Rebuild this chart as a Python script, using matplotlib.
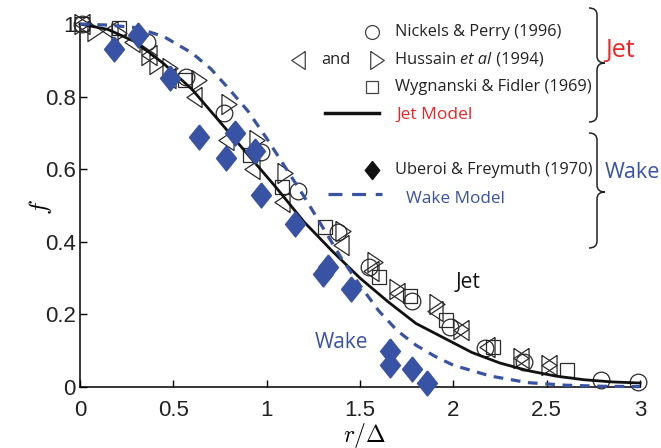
import matplotlib.pyplot as plt
from matplotlib.path import Path
from matplotlib.patches import PathPatch
from matplotlib.transforms import Affine2D

plt.rcParams['mathtext.fontset'] = 'cm'
plt.rcParams['lines.scale_dashes'] = False

# model curves
jet_x = [0, 0.15, 0.3, 0.45, 0.6, 0.75, 0.9, 1.05, 1.2, 1.35, 1.5, 1.65, 1.8,
         1.95, 2.1, 2.25, 2.4, 2.55, 2.7, 2.85, 3.0]
jet_f = [1.0, 0.985, 0.95, 0.89, 0.82, 0.73, 0.64, 0.55, 0.455, 0.375, 0.30,
         0.235, 0.175, 0.135, 0.095, 0.066, 0.045, 0.03, 0.02, 0.014, 0.011]

wake_x = [0, 0.15, 0.3, 0.45, 0.6, 0.7, 0.8, 0.9, 1.0, 1.1, 1.2, 1.3, 1.4,
          1.5, 1.6, 1.7, 1.8, 1.9, 2.0, 2.2, 2.4, 2.6, 2.8, 3.0]
wake_f = [1.0, 0.997, 0.99, 0.965, 0.92, 0.877, 0.82, 0.76, 0.685, 0.605,
          0.525, 0.44, 0.355, 0.28, 0.21, 0.155, 0.115, 0.085, 0.06, 0.03,
          0.012, 0.005, 0.002, 0.001]

# Nickels & Perry (1996)
np_x = [0.01, 0.36, 0.57, 0.77, 0.97, 1.17, 1.38, 1.55, 1.78, 1.98, 2.17,
        2.38, 2.79, 2.99]
np_f = [1.0, 0.95, 0.855, 0.755, 0.648, 0.54, 0.428, 0.33, 0.237, 0.166,
        0.107, 0.07, 0.02, 0.015]

# Hussain et al (1994), right and left pointing
hr_x = [0.01, 0.08, 0.21, 0.37, 0.41, 0.48, 0.64, 0.80, 0.95, 1.10, 1.41,
        1.58, 1.70, 1.91, 2.04, 2.36, 2.51]
hr_f = [1.0, 0.98, 0.975, 0.915, 0.89, 0.88, 0.845, 0.78, 0.68, 0.59, 0.43,
        0.345, 0.27, 0.23, 0.16, 0.08, 0.06]
hl_x = [0.01, 0.16, 0.28, 0.37, 0.47, 0.61, 0.78, 0.92, 1.08, 1.40, 1.56,
        1.70, 1.90, 2.04, 2.18, 2.36, 2.51]
hl_f = [1.0, 0.98, 0.95, 0.915, 0.85, 0.80, 0.68, 0.60, 0.51, 0.39, 0.32,
        0.26, 0.21, 0.157, 0.11, 0.08, 0.06]

# Wygnanski & Fidler (1969)
wf_x = [0.01, 0.21, 0.56, 0.91, 1.08, 1.31, 1.60, 1.77, 1.96, 2.21, 2.61]
wf_f = [1.0, 0.99, 0.846, 0.64, 0.55, 0.44, 0.304, 0.25, 0.185, 0.11, 0.047]

# Uberoi & Freymuth (1970)
uf_x = [0.18, 0.31, 0.48, 0.64, 0.78, 0.83, 0.94, 0.97, 1.15, 1.30, 1.33,
        1.45, 1.66, 1.66, 1.78, 1.86]
uf_f = [0.93, 0.97, 0.85, 0.69, 0.63, 0.70, 0.65, 0.53, 0.45, 0.31, 0.33,
        0.27, 0.10, 0.06, 0.05, 0.01]

xticks = [0, 0.5, 1, 1.5, 2, 2.5, 3]
xticklabels = ['0', '0.5', '1', '1.5', '2', '2.5', '3']
yticks = [0, 0.2, 0.4, 0.6, 0.8, 1.0]
yticklabels = ['0', '0.2', '0.4', '0.6', '0.8', '1']

blue = '#3953a4'
red = '#ee2424'
edge = '#2a2a2a'
tri_r = [(-0.75, 1), (-0.75, -1), (0.75, 0), (-0.75, 1)]
tri_l = [(0.75, 1), (0.75, -1), (-0.75, 0), (0.75, 1)]
diamond = [(0, 1), (0.8, 0), (0, -1), (-0.8, 0), (0, 1)]

fig = plt.figure(figsize=(6.61, 4.48), dpi=100)
ax = fig.add_axes([80 / 661, 1 - 387 / 448, 560 / 661, 363 / 448])

hollow = dict(linestyle='none', mfc='none', mec=edge, mew=0.9, clip_on=False, zorder=3)
ax.plot(np_x, np_f, marker='o', ms=12, **hollow)
ax.plot(hr_x, hr_f, marker=tri_r, ms=14.5, **hollow)
ax.plot(hl_x, hl_f, marker=tri_l, ms=14.5, **hollow)
ax.plot(wf_x, wf_f, marker='s', ms=10.5, **hollow)
ax.plot(jet_x, jet_f, color='#111111', lw=2.0, zorder=4, clip_on=False)
ax.plot(wake_x, wake_f, color=blue, lw=2.3, dashes=(7, 5.5), zorder=4, clip_on=False)
ax.plot(uf_x, uf_f, linestyle='none', marker=diamond, ms=18, mfc=blue, mec=blue,
        clip_on=False, zorder=5)

ax.set_xlim(0, 3)
ax.set_ylim(0, 1)
ax.spines['top'].set_visible(False)
ax.spines['right'].set_visible(False)
ax.spines['left'].set_linewidth(1.1)
ax.spines['bottom'].set_linewidth(1.1)
ax.set_xticks(xticks)
ax.set_xticklabels(xticklabels)
ax.set_yticks(yticks)
ax.set_yticklabels(yticklabels)
for lab in ax.get_xticklabels() + ax.get_yticklabels():
    lab.set_family('Liberation Sans')
    lab.set_color('#222222')
ax.tick_params(direction='in', length=5, width=1, labelsize=16)
ax.tick_params(axis='x', pad=9)
ax.tick_params(axis='y', pad=3)

ax.set_xlabel(r'$r/\Delta$', fontsize=17)
ax.xaxis.set_label_coords((365 - 80) / 560, (387 - 435) / 363)
ax.xaxis.label.set_va('center')
ax.set_ylabel(r'$f$', fontsize=18)
ax.yaxis.set_label_coords((40 - 80) / 560, (387 - 207) / 363)
ax.yaxis.label.set_va('center')

# annotation layer in reference pixel coordinates (y downward)
pix = Affine2D().scale(1 / 661, -1 / 448).translate(0, 1) + fig.transFigure
font = 'Open Sans'
fs = 11.8
txt = dict(transform=pix, family=font, fontsize=fs, va='center', ha='left', color='#222222')
mk = dict(transform=pix, linestyle='none', mfc='none', mec='#444444', mew=0.9, clip_on=False)

ax.plot([372], [32], marker='o', ms=10, **mk)
fig.text(395, 32, 'Nickels & Perry (1996)', **txt)

ax.plot([298], [60], marker=tri_l, ms=13, **mk)
fig.text(321, 60, 'and', **txt)
ax.plot([377], [60], marker=tri_r, ms=13, **mk)
t1 = fig.text(395, 60, 'Hussain ', **txt)
t2 = ax.annotate('et al', xy=(1, 0), xycoords=t1, ha='left', va='bottom',
                 family=font, fontsize=fs, style='italic', color='#222222')
ax.annotate(' (1994)', xy=(1, 0), xycoords=t2, ha='left', va='bottom',
            family=font, fontsize=fs, color='#222222')

ax.plot([372], [87], marker='s', ms=9, **mk)
fig.text(395, 87, 'Wygnanski & Fidler (1969)', **txt)

ax.plot([325, 379], [113, 113], transform=pix, color='#111111', lw=2.5, clip_on=False)
fig.text(396, 115, 'Jet Model', transform=pix, family=font, fontsize=12.5,
         va='center', ha='left', color=red)

ax.plot([372], [170], transform=pix, linestyle='none', marker=diamond, ms=13,
        mfc='#111111', mec='#111111', clip_on=False)
fig.text(395, 170, 'Uberoi & Freymuth (1970)', **txt)

ax.plot([328, 382], [194, 194], transform=pix, color=blue, lw=2.3,
        dashes=(10, 7), clip_on=False)
fig.text(406, 199, 'Wake Model', transform=pix, family=font, fontsize=12.3,
         va='center', ha='left', color=blue)


def brace(top, bot, mid, xl=589, xm=597, xr=605, r=7):
    verts = [(xl, top), (xm, top), (xm, top + r), (xm, mid - r),
             (xm, mid), (xr, mid), (xm, mid), (xm, mid + r),
             (xm, bot - r), (xm, bot), (xl, bot)]
    codes = [Path.MOVETO, Path.CURVE3, Path.CURVE3, Path.LINETO,
             Path.CURVE3, Path.CURVE3, Path.CURVE3, Path.CURVE3,
             Path.LINETO, Path.CURVE3, Path.CURVE3]
    fig.patches.append(PathPatch(Path(verts, codes), transform=pix, fill=False,
                                 edgecolor='#222222', lw=1.1))


brace(8, 122, 63)
brace(133, 248, 192)

fig.text(606, 50, 'Jet', transform=pix, family=font, fontsize=18, va='center',
         ha='left', color=red)
fig.text(605, 172, 'Wake', transform=pix, family=font, fontsize=15.5, va='center',
         ha='left', color=blue)
fig.text(468, 282, 'Jet', transform=pix, family=font, fontsize=15, va='center',
         ha='center', color='#111111')
fig.text(341, 343, 'Wake', transform=pix, family=font, fontsize=15, va='center',
         ha='center', color=blue)

fig.savefig('out.png', dpi=100)
